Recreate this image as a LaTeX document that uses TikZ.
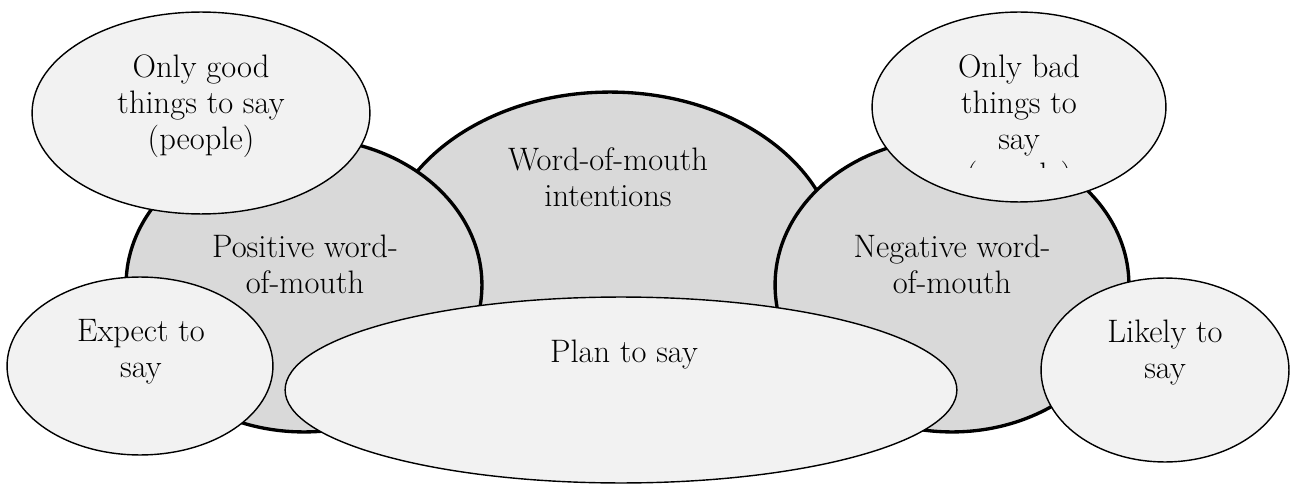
\documentclass[tikz,border=0pt]{standalone}
\usepackage{fontspec}
\usetikzlibrary{shapes.geometric}

\definecolor{womgray}{HTML}{D9D9D9}
\definecolor{womlight}{HTML}{F2F2F2}

\tikzset{
	wompicture/.style = {
		x = 0.02cm,
		y = -0.02cm,
		every node/.style = {font = \fontsize{18.5}{20.5}\selectfont}
	},
	womsize/.style 2 args = {
		minimum width = #1*0.04cm,
		minimum height = #2*0.04cm
	},
	wombubble/.style = {
		ellipse,
		draw = black,
		inner sep = 0pt
	},
	womgroup/.style = {
		wombubble,
		fill = womgray,
		line width = 1.9pt
	},
	womitem/.style = {
		wombubble,
		fill = womlight,
		line width = 0.8pt
	},
	womtext/.style = {
		align = center,
		inner sep = 0pt
	}
}

\begin{document}
\begin{tikzpicture}[wompicture]
	\useasboundingbox (0,0) rectangle (1291,486);

	% the three groups
	\node[womgroup, womsize = {228}{170}] (intent) at (610,262) {};
	\node[womtext] (intent-text) at (608,177) {Word-of-mouth\\intentions};
	\node[womgroup, womsize = {178}{147}] (positive) at (304,285) {};
	\node[womtext] (positive-text) at (305,264) {Positive word-\\of-mouth};
	\node[womgroup, womsize = {177}{147}] (negative) at (952,285) {};
	\node[womtext] (negative-text) at (952,264) {Negative word-\\of-mouth};

	% the items round them
	\node[womitem, womsize = {169}{101}] (good) at (201,113) {};
	\node[womtext] (good-text) at (201,106.5) {Only good\\things to say\\(people)};
	\node[womitem, womsize = {147}{95}] (bad) at (1019,107) {};
	\begin{scope}
		\clip (870,0) rectangle (1170,168);
		\node[womtext] (bad-text) at (1019,124.5) {Only bad\\things to\\say\\(people)};
	\end{scope}
	\node[womitem, womsize = {133}{89}] (expect) at (140,366) {};
	\node[womtext] (expect-text) at (141,352) {Expect to\\say};
	\node[womitem, womsize = {124}{92}] (likely) at (1165,370) {};
	\node[womtext] (likely-text) at (1165,353) {Likely to\\say};
	\node[womitem, womsize = {336}{93}] (plan) at (621,390) {};
	\node[womtext] (plan-text) at (624,355) {Plan to say};
\end{tikzpicture}
\end{document}
